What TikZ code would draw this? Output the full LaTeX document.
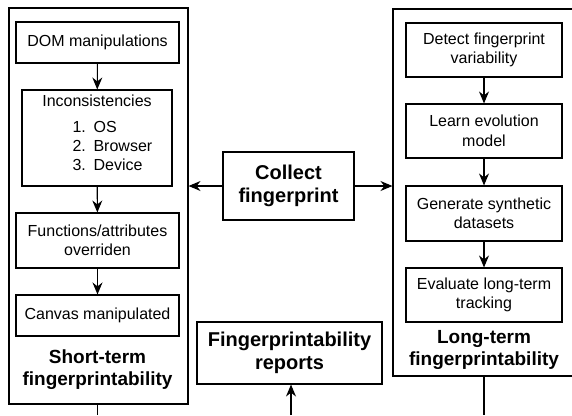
\documentclass[tikz,border=0pt]{standalone}
\usepackage{fontspec}
\setmainfont{Liberation Sans}
\usetikzlibrary{arrows.meta}
\begin{document}
\begin{tikzpicture}[x=1pt,y=-1pt,
  line width=1.1pt,
  box/.style={draw, rectangle, inner sep=0pt, align=center,
    font=\fontsize{16}{19.5}\selectfont},
  bigbox/.style={draw, rectangle, inner sep=0pt},
  title/.style={align=center, inner sep=0pt, font=\fontsize{20}{23}\selectfont\bfseries},
  subtitle/.style={align=center, inner sep=0pt, font=\fontsize{19}{22}\selectfont\bfseries},
  txt/.style={inner sep=0pt, font=\fontsize{16}{19.5}\selectfont},
  arr/.style={-{Stealth[length=12pt,width=10pt,inset=4pt]}}
]
\useasboundingbox (0,0) rectangle (572,415);

% containers
\node[bigbox, minimum width=179, minimum height=396] (stbox) at (98.5,206) {};
\node[bigbox, minimum width=200, minimum height=367] (ltbox) at (493,192.5) {};

% left inner boxes
\node[box, minimum width=163, minimum height=41] (dom) at (97.5,42.5) {DOM manipulations};
\node[box, minimum width=150, minimum height=96] (inc) at (97,138) {};
\node[txt, anchor=base] (inct) at (97,106) {Inconsistencies};
\node[txt, anchor=base west] (n1) at (72,132) {1.};
\node[txt, anchor=base west] (i1) at (93,132) {OS};
\node[txt, anchor=base west] (n2) at (72,151) {2.};
\node[txt, anchor=base west] (i2) at (93,151) {Browser};
\node[txt, anchor=base west] (n3) at (72,170) {3.};
\node[txt, anchor=base west] (i3) at (93,170) {Device};
\node[box, minimum width=163, minimum height=55] (fun) at (97.5,240.5) {Functions/attributes\\overriden};
\node[box, minimum width=163, minimum height=41] (can) at (97.5,315.5) {Canvas manipulated};
\node[subtitle] (stt) at (97.5,370) {Short-term\\fingerprintability};

% right inner boxes
\node[box, minimum width=156, minimum height=54] (det) at (484,50) {Detect fingerprint\\variability};
\node[box, minimum width=156, minimum height=54] (lea) at (484,131) {Learn evolution\\model};
\node[box, minimum width=156, minimum height=55] (gen) at (484,213.5) {Generate synthetic\\datasets};
\node[box, minimum width=156, minimum height=54] (eva) at (484,295) {Evaluate long-term\\tracking};
\node[subtitle] (ltt) at (484,350) {Long-term\\fingerprintability};

% center
\node[box, title, draw, minimum width=131, minimum height=68] (col) at (288.5,186) {Collect\\fingerprint};
\node[box, title, draw, minimum width=185, minimum height=62] (rep) at (289.5,353) {Fingerprintability\\reports};

\coordinate (sbot) at (97.5,415);
\coordinate (lbot) at (484,415);
\coordinate (rbot) at (291,415);

% arrows
\draw[arr] (dom) -- (inc);
\draw[arr] (inc) -- (fun);
\draw[arr] (fun) -- (can);
\draw[arr] (det) -- (lea);
\draw[arr] (lea) -- (gen);
\draw[arr] (gen) -- (eva);
\draw[arr] (col.west) -- (col.west -| stbox.east);
\draw[arr] (col.east) -- (col.east -| ltbox.west);
\draw[arr] (rbot) -- (rbot |- rep.south);
\draw (stbox.south -| sbot) -- (sbot);
\draw (ltbox.south -| lbot) -- (lbot);
\end{tikzpicture}
\end{document}
